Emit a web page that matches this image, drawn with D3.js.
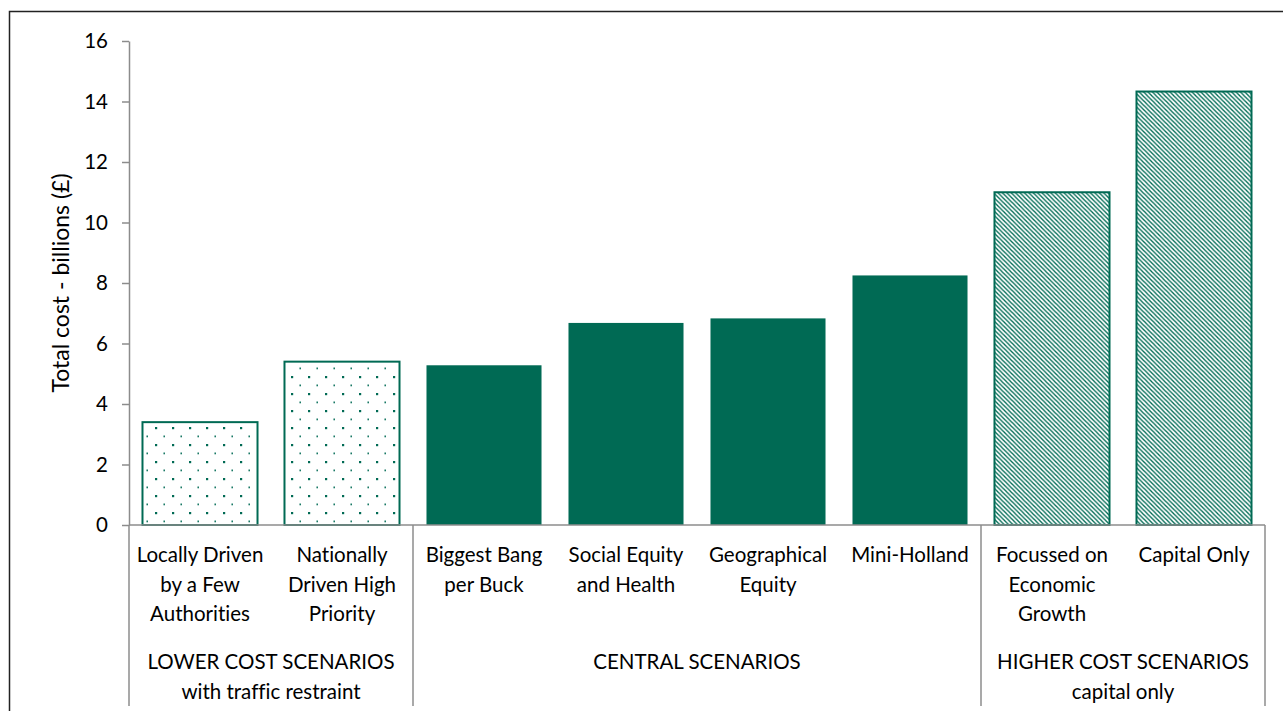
<!DOCTYPE html>
<html>
<head>
<meta charset="utf-8">
<script src="https://cdn.jsdelivr.net/npm/d3@7"></script>
<style>
  html, body { margin: 0; padding: 0; background: #fff; }
  svg { display: block; font-family: Lato, "Liberation Sans", sans-serif; font-variant-ligatures: none; }
</style>
</head>
<body>
<svg id="chart" width="1283" height="711"></svg>
<script>
// Scenario categories (label lines separated by "\n")
const categories = [
  "Locally Driven\nby a Few\nAuthorities",
  "Nationally\nDriven High\nPriority",
  "Biggest Bang\nper Buck",
  "Social Equity\nand Health",
  "Geographical\nEquity",
  "Mini-Holland",
  "Focussed on\nEconomic\nGrowth",
  "Capital Only"
];
// Total cost in billions of pounds
const costs = [3.4, 5.4, 5.28, 6.68, 6.83, 8.25, 11.0, 14.33];
// Fill style per scenario
const fills = ["dots", "dots", "solid", "solid", "solid", "solid", "hatch", "hatch"];
// Scenario groups: label lines and how many categories each spans
const groups = [
  { label: "LOWER COST SCENARIOS\nwith traffic restraint", span: 2 },
  { label: "CENTRAL SCENARIOS", span: 4 },
  { label: "HIGHER COST SCENARIOS\ncapital only", span: 2 }
];
const yTicks = [0, 2, 4, 6, 8, 10, 12, 14, 16];
const yTitle = "Total cost - billions (£)";

const green = "#006a54";
const axisGrey = "#8c8c8c";
const fontSize = 20.5;

const svg = d3.select("#chart");

// outer frame
svg.append("rect")
  .attr("x", 9.5).attr("y", 11.5)
  .attr("width", 1290).attr("height", 720)
  .attr("fill", "none").attr("stroke", "#222").attr("stroke-width", 1.5);

const plot = { left: 129, right: 1265, top: 41, bottom: 525 };

const x = d3.scaleBand()
  .domain(d3.range(categories.length))
  .range([plot.left, plot.right])
  .paddingInner(0.19)
  .paddingOuter(0.095);

const y = d3.scaleLinear().domain([0, 16]).range([plot.bottom, plot.top]);

// fill patterns
const defs = svg.append("defs");
const dots = defs.append("pattern")
  .attr("id", "dots").attr("patternUnits", "userSpaceOnUse")
  .attr("width", 17).attr("height", 17)
  .attr("x", 0).attr("y", 0);
dots.append("rect").attr("x", 2).attr("y", 2).attr("width", 2.2).attr("height", 2.2).attr("fill", green);
dots.append("rect").attr("x", 10.5).attr("y", 10.5).attr("width", 1.4).attr("height", 1.8).attr("fill", green);

const hatch = defs.append("pattern")
  .attr("id", "hatch").attr("patternUnits", "userSpaceOnUse")
  .attr("width", 4.4).attr("height", 4.4);
hatch.append("path")
  .attr("d", "M-1.1,-1.1 L5.5,5.5 M-1.1,3.3 L1.1,5.5 M3.3,-1.1 L5.5,1.1")
  .attr("stroke", green).attr("stroke-width", 1.35).attr("fill", "none");

// bars
svg.append("g").selectAll("rect")
  .data(costs)
  .join("rect")
  .attr("x", (d, i) => x(i))
  .attr("width", x.bandwidth())
  .attr("y", d => y(d))
  .attr("height", d => y(0) - y(d))
  .attr("fill", (d, i) => fills[i] === "solid" ? green : `url(#${fills[i]})`)
  .attr("stroke", (d, i) => fills[i] === "solid" ? "none" : green)
  .attr("stroke-width", 2);

// y axis
const yAxis = svg.append("g")
  .attr("transform", `translate(${plot.left},0)`)
  .call(d3.axisLeft(y).tickValues(yTicks).tickSize(7).tickPadding(14).tickSizeOuter(0));
yAxis.select(".domain").attr("stroke", axisGrey).attr("stroke-width", 1.5);
yAxis.selectAll(".tick line").attr("stroke", axisGrey).attr("stroke-width", 1.5);
yAxis.selectAll(".tick text")
  .attr("font-size", fontSize).attr("fill", "#000")
  .attr("font-family", "Lato, sans-serif");

// x axis baseline
svg.append("line")
  .attr("x1", plot.left).attr("x2", plot.right)
  .attr("y1", y(0)).attr("y2", y(0))
  .attr("stroke", axisGrey).attr("stroke-width", 1.5);

// group separators
const step = x.step();
let edges = [0];
groups.forEach(g => edges.push(edges[edges.length - 1] + g.span));
const edgeX = k => plot.left + k * step;
svg.append("g").selectAll("line")
  .data(edges)
  .join("line")
  .attr("x1", edgeX).attr("x2", edgeX)
  .attr("y1", y(0)).attr("y2", 706)
  .attr("stroke", axisGrey).attr("stroke-width", 1.5);

// category labels
const lineH = 29.5;
svg.append("g").selectAll("text")
  .data(categories)
  .join("text")
  .attr("text-anchor", "middle")
  .attr("font-size", fontSize)
  .attr("fill", "#000")
  .each(function (d, i) {
    d3.select(this).selectAll("tspan")
      .data(d.split("\n"))
      .join("tspan")
      .attr("x", x(i) + x.bandwidth() / 2)
      .attr("y", (t, j) => 562 + j * lineH)
      .text(t => t);
  });

// group labels
svg.append("g").selectAll("text")
  .data(groups)
  .join("text")
  .attr("text-anchor", "middle")
  .attr("font-size", fontSize)
  .attr("fill", "#000")
  .each(function (g, i) {
    const cx = (edgeX(edges[i]) + edgeX(edges[i + 1])) / 2;
    d3.select(this).selectAll("tspan")
      .data(g.label.split("\n"))
      .join("tspan")
      .attr("x", cx)
      .attr("y", (t, j) => 669 + j * lineH)
      .text(t => t);
  });

// y axis title
svg.append("text")
  .attr("transform", `translate(69,${(plot.top + plot.bottom) / 2}) rotate(-90)`)
  .attr("text-anchor", "middle")
  .attr("font-size", 23)
  .attr("fill", "#000")
  .text(yTitle);
</script>
</body>
</html>
